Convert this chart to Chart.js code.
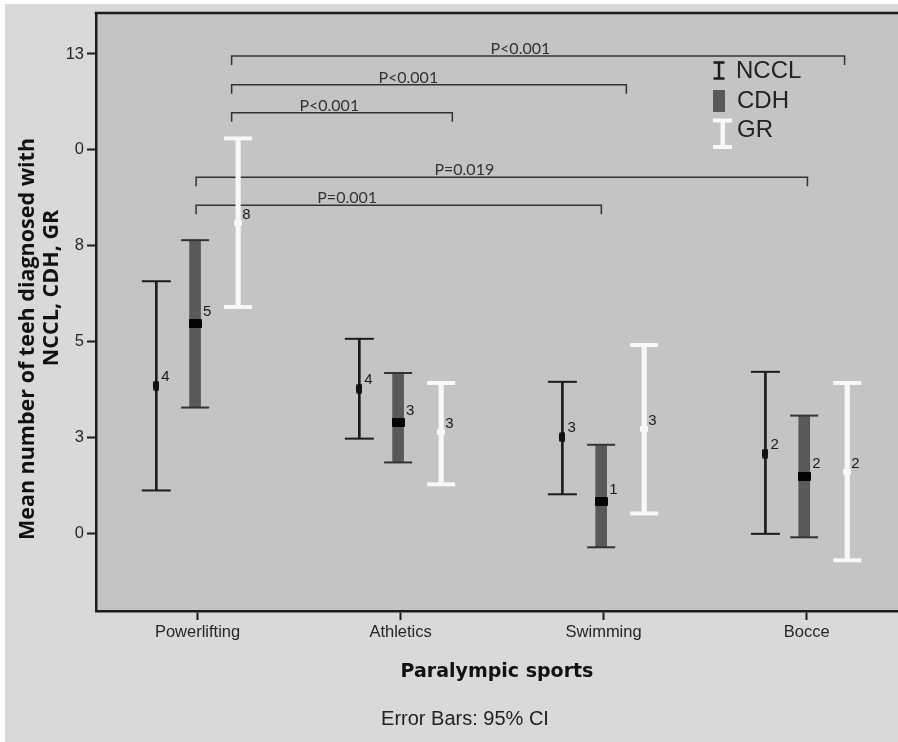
<!DOCTYPE html>
<html>
<head>
<meta charset="utf-8">
<script src="https://cdn.jsdelivr.net/npm/chart.js@4.4.1/dist/chart.umd.min.js"></script>
<style>
  html, body { margin: 0; padding: 0; overflow: hidden; background: #ffffff; }
  #wrap { width: 898px; height: 742px; }
  canvas { display: block; }
</style>
</head>
<body>
<div id="wrap"><canvas id="chart" width="898" height="742"></canvas></div>
<script>
// Sports on the x axis
const sports = ['Powerlifting', 'Athletics', 'Swimming', 'Bocce'];

// Mean number of teeth and 95% confidence bounds per sport
const ncclMean = [3.86, 3.78, 2.52, 2.09];
const ncclLow  = [1.13, 2.48, 1.03, 0.00];
const ncclHigh = [6.58, 5.08, 3.96, 4.22];

const cdhMean = [5.47, 2.90, 0.84, 1.50];
const cdhLow  = [3.29, 1.86, -0.35, -0.09];
const cdhHigh = [7.65, 4.19, 2.32, 3.08];

const grMean = [8.10, 2.65, 2.73, 1.62];
const grLow  = [5.91, 1.29, 0.53, -0.69];
const grHigh = [10.30, 3.93, 4.92, 3.93];

// Value-axis ticks and the labels printed beside them
const yTickValues = [0, 2.5, 5, 7.5, 10, 12.5];
const yTickLabels = ['0', '3', '5', '8', '0', '13'];

// Pairwise comparisons (sport index units on x, value units for the level)
const cmpFrom  = [0.168, 0.168, 0.168, -0.007, -0.007];
const cmpTo    = [3.187, 2.112, 1.255, 3.004, 1.989];
const cmpLevel = [12.45, 11.70, 10.97, 9.29, 8.56];
const cmpText  = ['P<0.001', 'P<0.001', 'P<0.001', 'P=0.019', 'P=0.001'];
const cmpTextX = [1.590, 1.038, 0.649, 1.314, 0.737];

// ---- styling ----
const OFFSET = { NCCL: -0.203, CDH: -0.012, GR: 0.2 };
const INK = '#1c1c1c';
const CDH_FILL = '#595959';
const GR_WHITE = '#f8f8f8';

function markCanvas(w, h, color, r) {
  const c = document.createElement('canvas');
  c.width = w; c.height = h;
  const g = c.getContext('2d');
  g.fillStyle = color;
  g.beginPath();
  g.roundRect(0, 0, w, h, r);
  g.fill();
  return c;
}
const ncclMark = markCanvas(6, 10, '#111111', 2);
const cdhMark = markCanvas(13, 9, '#050505', 1);
const grMark = markCanvas(8, 6, GR_WHITE, 1);

const pts = (off, arr) => arr.map((v, i) => ({ x: i + off, y: v }));
const spans = (off, lo, hi) => lo.map((v, i) => ({ x: i + off, y: [v, hi[i]] }));
const caps = (off, lo, hi) => pts(off, lo).concat(pts(off, hi));

function stem(off, lo, hi, width, color) {
  return { type: 'bar', data: spans(off, lo, hi), barThickness: width,
           backgroundColor: color, borderWidth: 0, grouped: false, order: 3 };
}
function capSet(off, lo, hi, radius, width, color) {
  return { type: 'scatter', data: caps(off, lo, hi), pointStyle: 'line',
           pointRadius: radius, pointBorderWidth: width, pointBorderColor: color,
           pointBackgroundColor: color, order: 2 };
}
function meanSet(off, means, mark) {
  return { type: 'scatter', data: pts(off, means), pointStyle: mark,
           pointRadius: 5, order: 1 };
}

const series = [
  { name: 'NCCL', mean: ncclMean, off: OFFSET.NCCL, dx: 5, dy: -9 },
  { name: 'CDH',  mean: cdhMean,  off: OFFSET.CDH,  dx: 8, dy: -12 },
  { name: 'GR',   mean: grMean,   off: OFFSET.GR,   dx: 4, dy: -8 }
];

const decor = {
  id: 'decor',
  beforeDraw(chart) {
    const { ctx, chartArea: a, width, height } = chart;
    ctx.save();
    ctx.fillStyle = '#ffffff';
    ctx.fillRect(0, 0, width, height);
    ctx.fillStyle = '#d9d9d9';
    ctx.fillRect(5, 4, width - 5, height - 4);
    ctx.fillStyle = '#c4c4c4';
    ctx.fillRect(a.left, a.top, a.right - a.left, a.bottom - a.top);
    ctx.restore();
  },
  beforeDatasetsDraw(chart) {
    const { ctx, scales: { x, y } } = chart;
    ctx.save();
    ctx.strokeStyle = '#333333';
    ctx.lineWidth = 1.5;
    const drop = 9;
    cmpLevel.forEach((lv, k) => {
      const x1 = x.getPixelForValue(cmpFrom[k]);
      const x2 = x.getPixelForValue(cmpTo[k]);
      const yy = y.getPixelForValue(lv);
      ctx.beginPath();
      ctx.moveTo(x1, yy + drop);
      ctx.lineTo(x1, yy);
      ctx.lineTo(x2, yy);
      ctx.lineTo(x2, yy + drop);
      ctx.stroke();
    });
    ctx.restore();
  },
  afterDraw(chart) {
    const { ctx, chartArea: a, scales: { x, y }, width } = chart;
    ctx.save();

    // top frame line
    ctx.strokeStyle = INK;
    ctx.lineWidth = 2.5;
    ctx.beginPath();
    ctx.moveTo(a.left - 1.25, a.top);
    ctx.lineTo(width, a.top);
    ctx.stroke();

    // comparison p-values
    ctx.fillStyle = '#333333';
    ctx.font = '16px Lato, "Liberation Sans", sans-serif';
    ctx.textAlign = 'center';
    ctx.textBaseline = 'alphabetic';
    cmpText.forEach((t, k) => {
      ctx.fillText(t, x.getPixelForValue(cmpTextX[k]), y.getPixelForValue(cmpLevel[k]) - 2);
    });

    // rounded means beside each marker
    ctx.fillStyle = '#1a1a1a';
    ctx.font = '15px "Liberation Sans", Arial, sans-serif';
    ctx.textAlign = 'left';
    ctx.textBaseline = 'middle';
    series.forEach(s => {
      s.mean.forEach((v, i) => {
        const px = x.getPixelForValue(i + s.off);
        const py = y.getPixelForValue(v);
        ctx.fillText(String(Math.round(v)), px + s.dx, py + s.dy);
      });
    });

    // legend
    ctx.strokeStyle = INK;
    ctx.lineWidth = 2.5;
    ctx.beginPath();
    ctx.moveTo(719, 62); ctx.lineTo(719, 79);
    ctx.moveTo(713.5, 62.5); ctx.lineTo(724.5, 62.5);
    ctx.moveTo(713.5, 78.5); ctx.lineTo(724.5, 78.5);
    ctx.stroke();
    ctx.fillStyle = CDH_FILL;
    ctx.fillRect(713, 90, 12, 22);
    ctx.fillStyle = GR_WHITE;
    ctx.fillRect(720.5, 119, 4.5, 29);
    ctx.fillRect(713, 118.5, 19, 4);
    ctx.fillRect(713, 145, 19, 4);
    ctx.fillStyle = '#222222';
    ctx.font = '24px "Liberation Sans", Arial, sans-serif';
    ctx.textAlign = 'left';
    ctx.textBaseline = 'middle';
    ctx.fillText('NCCL', 736, 71);
    ctx.fillText('CDH', 737, 101);
    ctx.fillText('GR', 737, 130);

    // value-axis title, two lines
    ctx.fillStyle = '#111111';
    ctx.font = 'bold 21.5px "Open Sans", "Liberation Sans", sans-serif';
    ctx.textAlign = 'center';
    ctx.textBaseline = 'alphabetic';
    ctx.save();
    ctx.translate(34, 339);
    ctx.rotate(-Math.PI / 2);
    ctx.fillText('Mean number of teeh diagnosed with', 0, 0);
    ctx.restore();
    ctx.save();
    ctx.translate(58, 288);
    ctx.rotate(-Math.PI / 2);
    ctx.fillText('NCCL, CDH, GR', 0, 0);
    ctx.restore();

    // footnote
    ctx.fillStyle = '#222222';
    ctx.font = '20px "Liberation Sans", Arial, sans-serif';
    ctx.textAlign = 'center';
    ctx.textBaseline = 'middle';
    ctx.fillText('Error Bars: 95% CI', 465, 719);

    ctx.restore();
  }
};

new Chart(document.getElementById('chart'), {
  type: 'scatter',
  data: {
    datasets: [
      meanSet(OFFSET.NCCL, ncclMean, ncclMark),
      meanSet(OFFSET.CDH, cdhMean, cdhMark),
      meanSet(OFFSET.GR, grMean, grMark),
      capSet(OFFSET.NCCL, ncclLow, ncclHigh, 14.5, 2, INK),
      capSet(OFFSET.CDH, cdhLow, cdhHigh, 14, 2, '#333333'),
      capSet(OFFSET.GR, grLow, grHigh, 14, 4, GR_WHITE),
      stem(OFFSET.NCCL, ncclLow, ncclHigh, 2, INK),
      stem(OFFSET.CDH, cdhLow, cdhHigh, 11, CDH_FILL),
      stem(OFFSET.GR, grLow, grHigh, 4.5, GR_WHITE)
    ]
  },
  options: {
    responsive: false,
    maintainAspectRatio: false,
    devicePixelRatio: 1,
    animation: false,
    events: [],
    layout: { autoPadding: false, padding: { top: 11, right: 0, bottom: 35, left: 0 } },
    plugins: { legend: { display: false }, tooltip: { enabled: false }, title: { display: false } },
    scales: {
      x: {
        type: 'linear',
        min: -0.5,
        max: 3.45,
        offset: false,
        afterFit: s => { s.height = 96; s.paddingLeft = 0; s.paddingRight = 0; },
        afterBuildTicks: s => { s.ticks = sports.map((_, i) => ({ value: i })); },
        ticks: {
          callback: v => sports[v],
          font: { family: '"Liberation Sans", Arial, sans-serif', size: 16.5 },
          color: '#262626',
          padding: 3,
          maxRotation: 0,
          autoSkip: false
        },
        grid: { offset: false, drawOnChartArea: false, drawTicks: true, tickLength: 9, tickColor: INK, tickWidth: 2 },
        border: { display: true, color: INK, width: 2.5 },
        title: {
          display: true,
          text: 'Paralympic sports',
          font: { family: '"DejaVu Sans", sans-serif', size: 19, weight: 'bold' },
          color: '#111111',
          padding: { top: 0, bottom: 23.6 }
        }
      },
      y: {
        type: 'linear',
        min: -2.01,
        max: 13.57,
        afterFit: s => { s.width = 96; },
        afterBuildTicks: s => { s.ticks = yTickValues.map(v => ({ value: v })); },
        ticks: {
          callback: (v, i) => yTickLabels[i],
          font: { family: '"Liberation Sans", Arial, sans-serif', size: 16.5 },
          color: '#262626',
          padding: 3
        },
        grid: { drawOnChartArea: false, drawTicks: true, tickLength: 9, tickColor: INK, tickWidth: 2 },
        border: { display: true, color: INK, width: 2.5 }
      }
    }
  },
  plugins: [decor]
});
</script>
</body>
</html>
